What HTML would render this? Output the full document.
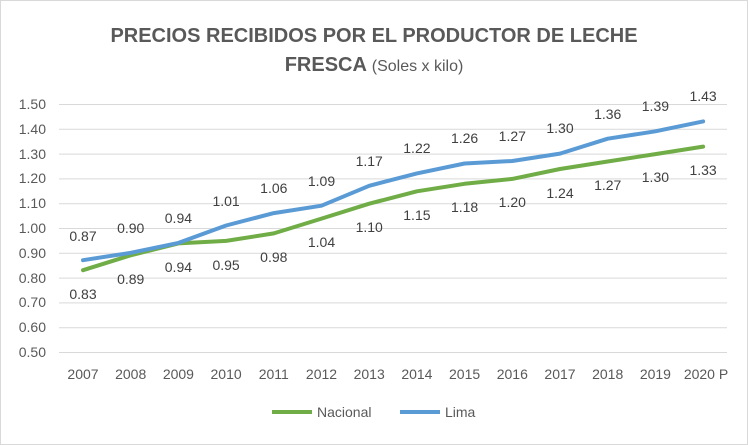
<!DOCTYPE html>
<html><head><meta charset="utf-8"><style>
body{margin:0;background:#fff}
svg{display:block;font-family:"Liberation Sans",sans-serif}
</style></head><body>
<svg width="748" height="445" viewBox="0 0 748 445">
<rect x="0.5" y="0.5" width="747" height="444" fill="#fff" stroke="#d9d9d9"/>
<text x="374" y="42" text-anchor="middle" font-size="20" font-weight="bold" fill="#595959">PRECIOS RECIBIDOS POR EL PRODUCTOR DE LECHE</text>
<text x="374" y="71" text-anchor="middle" fill="#595959"><tspan font-size="20" font-weight="bold">FRESCA </tspan><tspan font-size="16">(Soles x kilo)</tspan></text>
<g stroke="#d9d9d9" stroke-width="1">
<line x1="59" x2="727" y1="104.5" y2="104.5"/><line x1="59" x2="727" y1="129.3" y2="129.3"/><line x1="59" x2="727" y1="154.1" y2="154.1"/><line x1="59" x2="727" y1="178.9" y2="178.9"/><line x1="59" x2="727" y1="203.7" y2="203.7"/><line x1="59" x2="727" y1="228.5" y2="228.5"/><line x1="59" x2="727" y1="253.3" y2="253.3"/><line x1="59" x2="727" y1="278.1" y2="278.1"/><line x1="59" x2="727" y1="302.9" y2="302.9"/><line x1="59" x2="727" y1="327.7" y2="327.7"/><line x1="59" x2="727" y1="352.5" y2="352.5"/>
</g>
<g font-size="14" fill="#595959" text-anchor="end">
<text x="46" y="109">1.50</text><text x="46" y="134">1.40</text><text x="46" y="159">1.30</text><text x="46" y="183">1.20</text><text x="46" y="208">1.10</text><text x="46" y="233">1.00</text><text x="46" y="258">0.90</text><text x="46" y="283">0.80</text><text x="46" y="307">0.70</text><text x="46" y="332">0.60</text><text x="46" y="357">0.50</text>
</g>
<g font-size="14" fill="#595959" text-anchor="middle">
<text x="83" y="379">2007</text><text x="130.7" y="379">2008</text><text x="178.4" y="379">2009</text><text x="226.1" y="379">2010</text><text x="273.8" y="379">2011</text><text x="321.5" y="379">2012</text><text x="369.2" y="379">2013</text><text x="416.9" y="379">2014</text><text x="464.6" y="379">2015</text><text x="512.3" y="379">2016</text><text x="560" y="379">2017</text><text x="607.7" y="379">2018</text><text x="655.4" y="379">2019</text><text x="706" y="379">2020 P</text>
</g>
<polyline fill="none" stroke="#70AD47" stroke-width="4" stroke-linecap="round" stroke-linejoin="round" points="83,270.2 130.7,255.3 178.4,243.4 226.1,240.9 273.8,233.4 321.5,218.6 369.2,203.7 416.9,191.3 464.6,183.8 512.3,178.9 560,169 607.7,161.5 655.4,154.1 703.1,146.6"/>
<polyline fill="none" stroke="#5B9BD5" stroke-width="4" stroke-linecap="round" stroke-linejoin="round" points="83,260.2 130.7,252.8 178.4,242.9 226.1,225.5 273.8,213.1 321.5,205.7 369.2,185.8 416.9,173.4 464.6,163.5 512.3,161 560,153.6 607.7,138.7 655.4,131.3 703.1,121.4"/>
<g font-size="14" fill="#404040" text-anchor="middle">
<text x="83" y="241">0.87</text><text x="130.7" y="233">0.90</text><text x="178.4" y="223">0.94</text><text x="226.1" y="206">1.01</text><text x="273.8" y="193">1.06</text><text x="321.5" y="186">1.09</text><text x="369.2" y="166">1.17</text><text x="416.9" y="153">1.22</text><text x="464.6" y="143">1.26</text><text x="512.3" y="141">1.27</text><text x="560" y="133">1.30</text><text x="607.7" y="119">1.36</text><text x="655.4" y="111">1.39</text><text x="703.1" y="101">1.43</text>
<text x="83" y="299">0.83</text><text x="130.7" y="284">0.89</text><text x="178.4" y="272">0.94</text><text x="226.1" y="270">0.95</text><text x="273.8" y="262">0.98</text><text x="321.5" y="247">1.04</text><text x="369.2" y="232">1.10</text><text x="416.9" y="220">1.15</text><text x="464.6" y="212">1.18</text><text x="512.3" y="207">1.20</text><text x="560" y="198">1.24</text><text x="607.7" y="190">1.27</text><text x="655.4" y="182">1.30</text><text x="703.1" y="175">1.33</text>
</g>
<line x1="272" x2="312" y1="412" y2="412" stroke="#70AD47" stroke-width="4"/>
<text x="317" y="417" font-size="14" fill="#595959">Nacional</text>
<line x1="400" x2="440" y1="412" y2="412" stroke="#5B9BD5" stroke-width="4"/>
<text x="445" y="417" font-size="14" fill="#595959">Lima</text>
</svg>
</body></html>
